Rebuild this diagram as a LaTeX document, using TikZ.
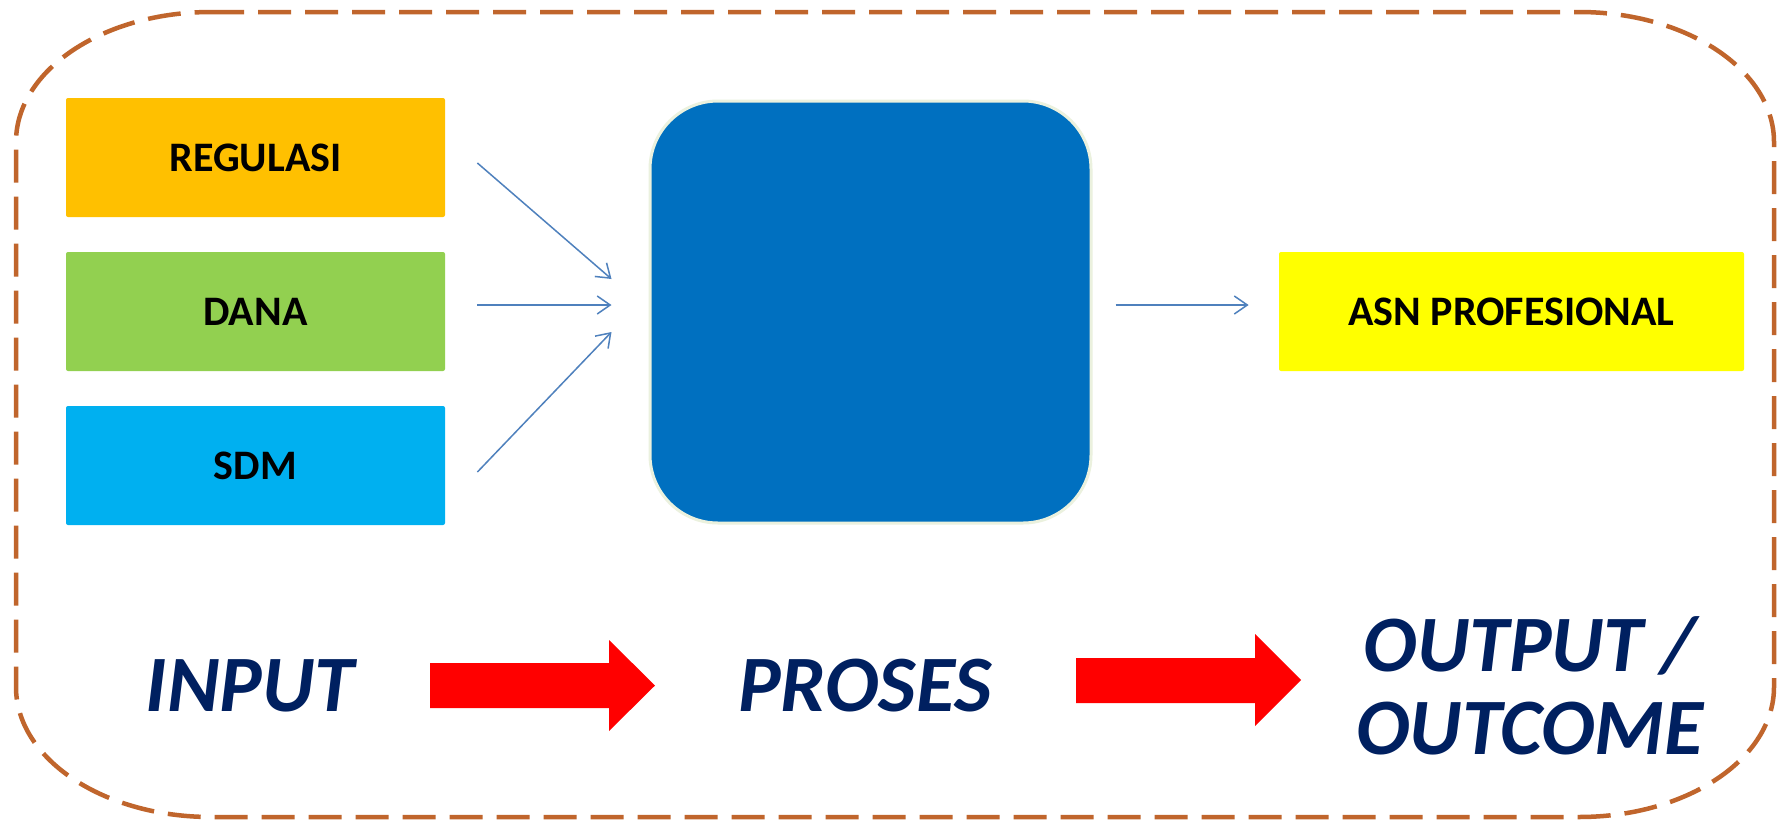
\documentclass[tikz,border=0pt]{standalone}
\usepackage{fontspec}
\setmainfont{Carlito}
\usetikzlibrary{arrows.meta,calc}
\definecolor{frame}{HTML}{C0652C}
\definecolor{cOrange}{HTML}{FFC000}
\definecolor{cGreen}{HTML}{92D050}
\definecolor{cSky}{HTML}{00B0F0}
\definecolor{cYellow}{HTML}{FFFF00}
\definecolor{cProc}{HTML}{0070C0}
\definecolor{cProcEdge}{HTML}{EBF1DE}
\definecolor{cConn}{HTML}{4F81BD}
\definecolor{cNavy}{HTML}{002060}
\definecolor{cRed}{HTML}{FF0000}
\begin{document}
\begin{tikzpicture}[x=0.5pt,y=-0.5pt,
  inbox/.style={rectangle, rounded corners=1pt, inner sep=0pt, minimum width=189.5pt, minimum height=59.5pt, font=\bfseries\fontsize{21}{25}\selectfont, text=black},
  outbox/.style={inbox, minimum width=232.5pt},
  procbox/.style={rectangle, rounded corners=34pt, fill=cProc, draw=cProcEdge, line width=1.5pt, minimum width=220.5pt, minimum height=211pt, inner sep=0pt},
  conn/.style={draw=cConn, line width=0.75pt, -{Straight Barb[length=6.5pt,width=9pt,line width=0.75pt]}},
  biglabel/.style={font=\bfseries\itshape\fontsize{40}{41.5}\selectfont, text=cNavy, align=center, inner sep=0pt},
  blockarrow/.style={fill=cRed}
]
\useasboundingbox (0,0) rectangle (1779,820);
\fill[white] (0,0) rectangle (1779,820);

% dashed frame
\draw[frame, line width=2.25pt, dash pattern=on 16.5pt off 7pt]
  (211,12) -- (1579,12)
  .. controls (1686.7,12) and (1774,70.2) .. (1774,142)
  -- (1774,687)
  .. controls (1774,758.8) and (1686.7,817) .. (1579,817)
  -- (211,817)
  .. controls (103.3,817) and (16,758.8) .. (16,687)
  -- (16,142)
  .. controls (16,70.2) and (103.3,12) .. (211,12) -- cycle;

% input boxes
\node[inbox, fill=cOrange] (reg) at (255.5,157.5) {REGULASI};
\node[inbox, fill=cGreen] (dana) at (255.5,311.5) {DANA};
\node[inbox, fill=cSky] (sdm) at (255.5,465.5) {SDM};

% process box
\node[procbox] (proc) at (870.5,312) {};

% output box
\node[outbox, fill=cYellow] (asn) at (1511.5,311.5) {ASN PROFESIONAL};

% connectors
\draw[conn] ($(reg.east)+(32,5.5)$) -- ($(proc.west)+(-37,-33)$);
\draw[conn] ($(dana.east)+(32,-6.5)$) -- ($(proc.west)+(-37,-7)$);
\draw[conn] ($(sdm.east)+(32,6.5)$) -- ($(proc.west)+(-37,20)$);
\draw[conn] ($(proc.east)+(23,-7)$) -- ($(asn.west)+(-30,-6.5)$);

% bottom labels
\node[biglabel] (lin) at (250,686) {INPUT};
\node[biglabel] (lpr) at (865,686) {PROSES};
\node[biglabel] (lout) at (1530,686) {OUTPUT /\\OUTCOME};

% red block arrows
\fill[blockarrow] (430,663) -- (609,663) -- (609,640) -- (655,685.5) -- (609,731) -- (609,708) -- (430,708) -- cycle;
\fill[blockarrow] (1076,658) -- (1255,658) -- (1255,634) -- (1301,680) -- (1255,726) -- (1255,703) -- (1076,703) -- cycle;
\end{tikzpicture}
\end{document}
